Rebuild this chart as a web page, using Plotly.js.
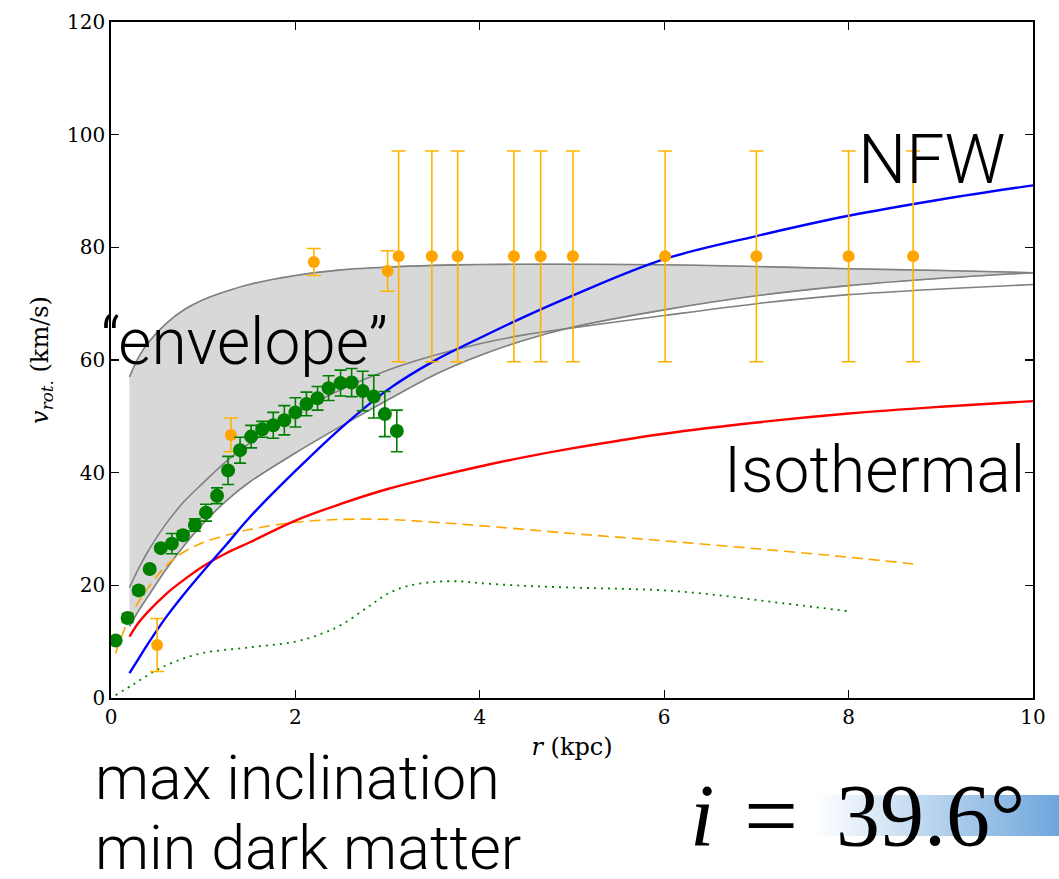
<!DOCTYPE html>
<html>
<head>
<meta charset="utf-8">
<script src="https://cdn.plot.ly/plotly-3.0.1.min.js"></script>
<style>
  html, body { margin: 0; padding: 0; background: #ffffff; }
  #wrap { position: relative; width: 1059px; height: 879px; }
  #grad { position: absolute; left: 815px; top: 795px; width: 244px; height: 41px;
          background: linear-gradient(to right, #ffffff 0%, #6ea6dc 100%); z-index: 0; }
  #chart { position: absolute; left: 0; top: 0; width: 1059px; height: 879px; z-index: 1; }
</style>
</head>
<body>
<div id="wrap">
  <div id="grad"></div>
  <div id="chart"></div>
</div>
<script>
// ---- model curves sampled on a common radius grid (kpc) ----
const rGrid      = [0.2, 0.3, 0.4, 0.6, 0.8, 1.0, 1.25, 1.5, 2.0, 2.5, 3.0, 3.5, 4.0, 4.5, 5.0, 6.0, 7.0, 8.0, 9.0, 10.0];
const envUpper   = [57.0, 60.5, 63.0, 66.5, 69.0, 70.7, 72.2, 73.4, 75.0, 76.0, 76.5, 76.8, 76.95, 77.0, 77.0, 76.9, 76.6, 76.2, 75.9, 75.5];
const envLower   = [12.7, 15.5, 18.0, 22.9, 27.2, 31.0, 35.0, 38.3, 43.5, 48.3, 52.9, 57.3, 60.8, 63.6, 65.8, 68.9, 71.4, 73.2, 74.5, 75.5];
const grayCurve  = [19.6, 23.0, 26.0, 31.0, 35.0, 38.2, 42.0, 45.2, 50.5, 54.8, 58.2, 60.8, 62.9, 64.5, 65.7, 67.9, 70.0, 71.6, 72.6, 73.4];
const nfwV       = [4.4, 7.0, 9.6, 14.4, 18.6, 22.5, 27.2, 32.0, 40.3, 48.0, 54.7, 59.8, 63.9, 67.8, 71.4, 77.9, 82.0, 85.6, 88.5, 91.0];
const isoV       = [10.9, 13.4, 15.3, 18.5, 21.1, 23.4, 25.7, 27.6, 31.5, 34.5, 37.1, 39.2, 41.1, 42.8, 44.3, 46.9, 48.9, 50.5, 51.7, 52.7];

// ---- dashed orange component ----
const dashR = [0.05, 0.2, 0.4, 0.6, 0.8, 1.0, 1.25, 1.5, 2.0, 2.5, 3.0, 3.5, 4.0, 5.0, 6.0, 7.0, 8.0, 8.7];
const dashV = [7.9, 14.2, 19.5, 23.5, 26.0, 27.6, 28.9, 29.9, 31.2, 31.7, 31.7, 31.2, 30.6, 29.2, 27.9, 26.5, 25.0, 23.8];

// ---- dotted green component ----
const dotR = [0.05, 0.25, 0.5, 0.75, 1.0, 1.5, 2.0, 2.3, 2.5, 2.8, 3.0, 3.2, 3.5, 3.8, 4.0, 4.5, 5.0, 5.5, 6.0, 6.5, 7.0, 7.5, 8.0];
const dotV = [0.5, 2.5, 5.0, 6.8, 8.0, 9.0, 10.0, 11.5, 13.0, 16.3, 18.5, 19.8, 20.6, 20.7, 20.4, 19.9, 19.6, 19.4, 19.1, 18.4, 17.4, 16.4, 15.4];

// ---- orange data points ----
const orR   = [0.50, 1.30, 2.20, 3.00, 3.12, 3.48, 3.76, 4.37, 4.66, 5.01, 6.01, 7.00, 8.00, 8.70];
const orV   = [9.4, 46.7, 77.4, 75.8, 78.4, 78.4, 78.4, 78.4, 78.4, 78.4, 78.4, 78.4, 78.4, 78.4];
const orErr = [4.7, 3.0, 2.4, 3.6, 18.7, 18.7, 18.7, 18.7, 18.7, 18.7, 18.7, 18.7, 18.7, 18.7];

// ---- green data points ----
const grR   = [0.05, 0.18, 0.30, 0.42, 0.54, 0.66, 0.78, 0.91, 1.03, 1.15, 1.27, 1.40, 1.52, 1.64, 1.76, 1.88, 2.00, 2.12, 2.24, 2.36, 2.49, 2.61, 2.73, 2.85, 2.97, 3.10];
const grV   = [10.2, 14.2, 19.1, 22.9, 26.6, 27.4, 28.9, 30.7, 32.9, 35.9, 40.4, 44.0, 46.4, 47.7, 48.4, 49.3, 50.7, 52.2, 53.2, 55.0, 55.9, 56.0, 54.5, 53.5, 50.4, 47.4];
const grErr = [0, 0.8, 0.7, 0, 0, 1.8, 0.8, 1.1, 1.5, 1.4, 2.5, 2.3, 2.0, 1.4, 2.3, 2.6, 2.6, 2.1, 2.1, 2.2, 2.3, 2.5, 3.5, 3.8, 4.0, 3.7];

// ---- ticks ----
const xTicks = [0, 2, 4, 6, 8, 10];
const yTicks = [0, 20, 40, 60, 80, 100, 120];

const envPolyX = rGrid.concat(rGrid.slice().reverse());
const envPolyY = envUpper.concat(envLower.slice().reverse());

const traces = [
  { x: envPolyX, y: envPolyY, type: 'scatter', mode: 'lines', fill: 'toself',
    fillcolor: '#d8d8d8', line: { color: '#b8b8b8', width: 1.2, shape: 'spline', smoothing: 0.8 }, hoverinfo: 'skip' },
  { x: rGrid, y: envUpper, type: 'scatter', mode: 'lines', line: { color: '#808080', width: 1.6, shape: 'spline', smoothing: 0.8 } },
  { x: rGrid, y: envLower, type: 'scatter', mode: 'lines', line: { color: '#808080', width: 1.6, shape: 'spline', smoothing: 0.8 } },
  { x: rGrid, y: grayCurve, type: 'scatter', mode: 'lines', line: { color: '#808080', width: 1.6, shape: 'spline', smoothing: 0.8 } },
  { x: dotR, y: dotV, type: 'scatter', mode: 'lines', line: { color: '#008000', width: 1.8, dash: '2px,5px', shape: 'spline' } },
  { x: dashR, y: dashV, type: 'scatter', mode: 'lines', line: { color: '#ffa500', width: 1.6, dash: '11px,6px', shape: 'spline' } },
  { x: rGrid, y: isoV, type: 'scatter', mode: 'lines', line: { color: '#ff0000', width: 2.4, shape: 'spline' } },
  { x: rGrid, y: nfwV, type: 'scatter', mode: 'lines', line: { color: '#0000ff', width: 2.4, shape: 'spline' } },
  { x: orR, y: orV, type: 'scatter', mode: 'markers',
    marker: { color: '#ffa500', size: 12, line: { width: 0 } },
    error_y: { type: 'data', array: orErr, visible: true, color: '#ffb300', thickness: 1.6, width: 7 } },
  { x: grR, y: grV, type: 'scatter', mode: 'markers',
    marker: { color: '#008000', size: 14, line: { width: 0 } },
    error_y: { type: 'data', array: grErr, visible: true, color: '#008000', thickness: 1.6, width: 6 } }
];

const px = v => (v - 111) / 922;
const py = v => (698 - v) / 676;
const sans = { family: 'Roboto, "Liberation Sans", sans-serif', color: '#000000', weight: 300 };
const serif = '"DejaVu Serif", "Liberation Serif", serif';
const mathFont = { family: '"Liberation Serif", "DejaVu Serif", serif', size: 88, color: '#000' };

const layout = {
  width: 1059, height: 879,
  margin: { l: 111, r: 26, t: 22, b: 181 },
  paper_bgcolor: 'rgba(0,0,0,0)',
  plot_bgcolor: '#ffffff',
  showlegend: false,
  font: { family: serif, size: 20, color: '#000000' },
  xaxis: {
    range: [0, 10], tickvals: xTicks, ticktext: xTicks.map(String),
    ticks: 'inside', ticklen: 8, tickwidth: 1.2, tickcolor: '#000',
    showline: true, linecolor: '#000', linewidth: 1.8, mirror: 'ticks',
    showgrid: false, zeroline: false,
    tickfont: { family: serif, size: 20 },
    title: { text: '<i>r</i> (kpc)', font: { family: serif, size: 24 }, standoff: 10 }
  },
  yaxis: {
    range: [0, 120], tickvals: yTicks, ticktext: yTicks.map(String),
    ticks: 'inside', ticklen: 8, tickwidth: 1.2, tickcolor: '#000',
    showline: true, linecolor: '#000', linewidth: 1.8, mirror: 'ticks',
    showgrid: false, zeroline: false,
    tickfont: { family: serif, size: 20 },
    title: { text: '<i>v</i><sub><i>rot.</i></sub> (km/s)', font: { family: serif, size: 24 }, standoff: 12 }
  },
  annotations: [
    { xref: 'paper', yref: 'paper', x: px(99), y: py(342), xanchor: 'left', yanchor: 'middle',
      text: '“envelope”', showarrow: false, font: Object.assign({ size: 64 }, sans) },
    { xref: 'paper', yref: 'paper', x: px(1008), y: py(160), xanchor: 'right', yanchor: 'middle',
      text: 'NFW', showarrow: false, font: Object.assign({ size: 68 }, sans) },
    { xref: 'paper', yref: 'paper', x: px(1027), y: py(470), xanchor: 'right', yanchor: 'middle',
      text: 'Isothermal', showarrow: false, font: Object.assign({ size: 64 }, sans) },
    { xref: 'paper', yref: 'paper', x: px(93), y: py(778), xanchor: 'left', yanchor: 'middle',
      text: 'max inclination', showarrow: false, font: Object.assign({ size: 61 }, sans) },
    { xref: 'paper', yref: 'paper', x: px(93), y: py(848), xanchor: 'left', yanchor: 'middle',
      text: 'min dark matter', showarrow: false, font: Object.assign({ size: 61 }, sans) },
    { xref: 'paper', yref: 'paper', x: px(688), y: py(815), xanchor: 'left', yanchor: 'middle',
      text: '<i>i</i>', showarrow: false, font: mathFont },
    { xref: 'paper', yref: 'paper', x: px(742), y: py(815), xanchor: 'left', yanchor: 'middle',
      text: '=', showarrow: false, font: Object.assign({}, mathFont, { size: 96 }) },
    { xref: 'paper', yref: 'paper', x: px(834), y: py(815), xanchor: 'left', yanchor: 'middle',
      text: '39.6°', showarrow: false, font: mathFont }
  ]
};

Plotly.newPlot('chart', traces, layout, { displayModeBar: false, staticPlot: true });
</script>
</body>
</html>
